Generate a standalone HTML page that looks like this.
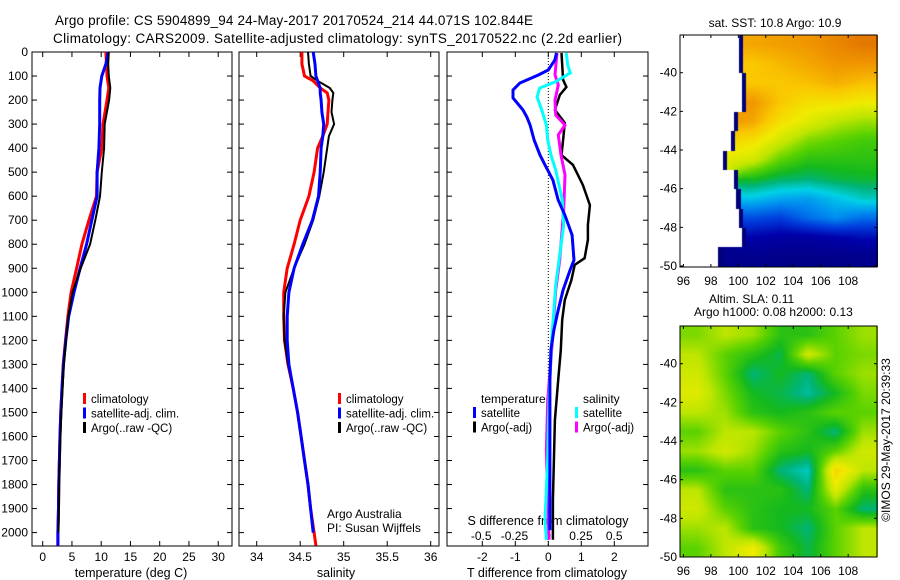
<!DOCTYPE html>
<html><head><meta charset="utf-8">
<style>
html,body{margin:0;padding:0;background:#fff;}
#wrap{position:relative;width:900px;height:580px;overflow:hidden;font-family:"Liberation Sans",sans-serif;}
canvas{position:absolute;}
svg{position:absolute;left:0;top:0;}
</style></head>
<body>
<div id="wrap">
<canvas id="sst" width="198" height="232" style="left:680px;top:35px"></canvas>
<canvas id="sla" width="198" height="231" style="left:680px;top:326px"></canvas>
<svg id="fig" width="900" height="580" xmlns="http://www.w3.org/2000/svg"></svg>
</div>
<script>
// ---- profile data (depth in dbar) ----
const depthsT = [0,50,100,150,200,300,400,500,600,700,800,900,1000,1100,1200,1300,1400,1500,1600,1700,1800,1900,2000,2054];
const tempClim = [10.8,10.9,11.0,11.3,11.0,10.3,10.1,9.3,9.2,7.9,6.7,5.8,4.85,4.3,3.9,3.5,3.3,3.1,2.95,2.85,2.75,2.7,2.6,2.6];
const tempSat  = [11.2,10.8,10.1,9.8,9.75,9.75,9.6,9.3,9.3,8.4,7.5,6.4,5.35,4.45,3.95,3.55,3.3,3.1,2.95,2.85,2.75,2.7,2.6,2.6];
const tempArgo = [11.3,11.2,11.3,11.55,11.35,10.6,10.5,10.1,9.8,9.0,8.1,6.5,5.1,4.4,4.0,3.6,3.4,3.2,3.0,2.9,2.8,2.75,2.7];
const depthsS = [0,50,100,120,150,170,200,250,300,350,400,500,600,700,800,900,1000,1100,1200,1300,1400,1500,1600,1700,1800,1900,2000,2054];
const salClim = [34.52,34.52,34.55,34.65,34.73,34.81,34.83,34.82,34.81,34.76,34.70,34.66,34.60,34.50,34.43,34.35,34.31,34.31,34.32,34.36,34.42,34.47,34.51,34.55,34.59,34.62,34.66,34.68];
const salSat  = [34.65,34.67,34.68,34.70,34.73,34.73,34.74,34.75,34.77,34.76,34.74,34.73,34.71,34.64,34.53,34.43,34.37,34.35,34.35,34.37,34.42,34.47,34.51,34.55,34.59,34.62,34.65];
const salArgo = [34.59,34.60,34.62,34.70,34.84,34.88,34.87,34.86,34.89,34.83,34.81,34.77,34.72,34.65,34.55,34.43,34.33,34.31,34.32,34.36,34.42,34.47,34.51,34.55,34.59,34.62,34.65];
// difference panel
const depthsDT = [4,33,75,96,129,158,191,241,270,304,366,429,470,533,616,678,762,866,907,990,1074,1157,1240,1365,1615,1990];
const dTsat = [0.25,0.2,0,-0.31,-0.86,-1.07,-1.07,-0.77,-0.65,-0.55,-0.43,-0.25,-0.1,0.14,0.3,0.5,0.72,0.78,0.66,0.45,0.3,0.17,0.08,0.05,0.05,0.05];
const depthsDTa = [4,116,146,179,241,295,366,429,470,554,637,720,782,858,886,949,1032,1115,1240,1365,1532,1865,2030];
const dTargo = [0.4,0.45,0.55,0.35,0.2,0.5,0.45,0.4,0.75,1.05,1.26,1.2,1.2,1.1,0.8,0.7,0.5,0.42,0.38,0.3,0.2,0.14,0.14];
const depthsDS = [4,54,87,125,150,187,241,304,366,429,491,616,720,845,970,1198,1448,1698,1948,2030];
const dSsat = [0.14,0.15,0.17,0.055,-0.06,-0.08,-0.045,-0.01,0,0.025,0.06,0.11,0.12,0.09,0.06,0.03,0.01,0,-0.02,-0.01];
const depthsDSa = [4,95,137,200,262,304,345,429,512,658,866,991,1157,1282,1448,1657,1865,2030];
const dSargo = [0.07,0.055,0.08,0.055,0.06,0.13,0.08,0.1,0.13,0.12,0.09,0.06,0.04,0.025,0,-0.01,0,0.01];
const depthTicks = [0,100,200,300,400,500,600,700,800,900,1000,1100,1200,1300,1400,1500,1600,1700,1800,1900,2000];
const tempTicks = [0,5,10,15,20,25,30];
const salTicks = [34,34.5,35,35.5,36];
const salTickLabels = ["34","34.5","35","35.5","36"];
const dTTicks = [-2,-1,0,1,2];
const dSTicks = [-0.5,-0.25,0,0.25,0.5];
const dSTickLabels = ["-0.5","-0.25","0","0.25","0.5"];
// map grids: rows lat -38.5..-49.5, cols lon 97..109 step 2 (colour scale 0..1), null = no data
const mapLats = [-38.5,-39.5,-40.5,-41.5,-42.5,-43.5,-44.5,-45.5,-46.5,-47.5,-48.5,-49.5];
const mapLons = [97,99,101,103,105,107,109];
const sstGrid = [
 [null,null,0.78,0.79,0.8,0.82,0.84],
 [null,null,0.74,0.76,0.78,0.8,0.8],
 [null,null,0.74,0.74,0.75,0.77,0.75],
 [null,null,0.8,0.74,0.7,0.7,0.68],
 [null,0.8,0.78,0.7,0.66,0.62,0.6],
 [null,0.72,0.7,0.64,0.58,0.56,0.54],
 [null,0.66,0.64,0.56,0.52,0.52,0.52],
 [null,null,0.5,0.47,0.46,0.48,0.49],
 [null,null,0.38,0.35,0.34,0.38,0.42],
 [null,null,0.24,0.22,0.28,0.32,0.28],
 [null,null,0.12,0.1,0.1,0.12,0.14],
 [null,0.05,0.05,0.04,0.04,0.04,0.05]];
const sstWestEdge = [100,100,100.2,100.2,99.6,99.4,98.8,99.6,99.8,100,100.2,98.5];
const slaGrid = [
 [.58,.62,.6,.52,.52,.56,.6],
 [.62,.56,.52,.48,.64,.56,.58],
 [.64,.56,.46,.5,.46,.56,.6],
 [.66,.58,.5,.48,.44,.5,.58],
 [.62,.6,.52,.5,.52,.56,.56],
 [.56,.62,.62,.56,.52,.46,.6],
 [.6,.64,.6,.52,.5,.56,.64],
 [.52,.56,.56,.46,.42,.72,.62],
 [.62,.52,.52,.52,.46,.66,.52],
 [.64,.56,.52,.5,.5,.56,.46],
 [.6,.62,.52,.5,.46,.56,.62],
 [.56,.62,.68,.54,.48,.56,.62]];
const lonTicks = [96,98,100,102,104,106,108];
const latTicks = [-40,-42,-44,-46,-48,-50];

const NS="http://www.w3.org/2000/svg";
const svg=document.getElementById('fig');
function mk(tag,attrs,parent){const e=document.createElementNS(NS,tag);for(const k in attrs)e.setAttribute(k,attrs[k]);(parent||svg).appendChild(e);return e;}
function txt(s,x,y,anchor,size,parent){const t=mk('text',{x:x,y:y,'text-anchor':anchor||'start','font-size':size||12,fill:'#000','font-family':'Liberation Sans, sans-serif'},parent);t.textContent=s;return t;}

const TOP=52,BOT=546;
const yD=d=>TOP+d*0.2403;
const P1={l:32,r:232}, P2={l:239,r:439}, P3={l:447,r:648};
const xT=v=>42.7+v*5.85;
const xS=v=>256.7+(v-34)*87;
const xDT=v=>548.3+v*33;
const xDS=v=>547.7+v*133;

function frame(p,name){
  const g=mk('g',{});
  
  
  mk('rect',{x:p.l,y:TOP,width:p.r-p.l,height:BOT-TOP,fill:'none',stroke:'#000','stroke-width':1},g);
  depthTicks.forEach(d=>{const y=yD(d);mk('line',{x1:p.l,x2:p.l+5,y1:y,y2:y,stroke:'#000'},g);mk('line',{x1:p.r-5,x2:p.r,y1:y,y2:y,stroke:'#000'},g);});
  return g;
}
function xticks(g,vals,fx,labels,ly){
  vals.forEach((v,i)=>{const x=fx(v);mk('line',{x1:x,x2:x,y1:BOT,y2:BOT-5,stroke:'#000'},g);mk('line',{x1:x,x2:x,y1:TOP,y2:TOP+5,stroke:'#000'},g);
    if(labels){const t=txt(labels[i],x,ly,'middle',12,g);}});
}
function step(xs,ds,fx,color,w,name){
  let d='';
  for(let i=0;i<xs.length;i++){const x=fx(xs[i]),y=yD(ds[i]);d+=(i?'L':'M')+x.toFixed(1)+' '+y.toFixed(1);}
  const p=mk('path',{d:d,fill:'none',stroke:color,'stroke-width':w,'stroke-linejoin':'miter'});
  
  
  return p;
}
function legend(items,x,y0,dy){
  items.forEach((it,i)=>{const y=y0+i*dy;
    const r=mk('rect',{x:x,y:y-10,width:3,height:11,fill:it[1]});
    
    
    const t=txt(it[0],x+8,y,'start',11.5);
    
    });
}

// titles
let t=txt('Argo profile: CS 5904899_94 24-May-2017 20170524_214 44.071S 102.844E',55,25,'start',13.5);
t.setAttribute('textLength','478');


t=txt('Climatology: CARS2009. Satellite-adjusted climatology: synTS_20170522.nc (2.2d earlier)',53,43,'start',13.5);
t.setAttribute('textLength','569');



// panel 1
let g1=frame(P1,'temperature-panel');
depthTicks.forEach(d=>{const l=txt(String(d),28,yD(d)+4,'end',12,g1);});
xticks(g1,tempTicks,xT,tempTicks.map(String),561);
t=txt('temperature (deg C)',131,577,'middle',12.5);


step(tempClim,depthsT,xT,'#f00',3,'temp-climatology-line');
step(tempSat,depthsT,xT,'#00f',3,'temp-satellite-line');
step(tempArgo,depthsT.slice(0,tempArgo.length),xT,'#000',2,'temp-argo-line');
legend([['climatology','#f00'],['satellite-adj. clim.','#00f'],['Argo(..raw -QC)','#000']],83,403,14.5);

// panel 2
let g2=frame(P2,'salinity-panel');
xticks(g2,salTicks,xS,salTickLabels,561);
t=txt('salinity',336,577,'middle',12.5);


step(salClim,depthsS,xS,'#f00',3,'sal-climatology-line');
step(salArgo,depthsS.slice(0,salArgo.length),xS,'#000',2,'sal-argo-line');
step(salSat,depthsS.slice(0,salSat.length),xS,'#00f',3,'sal-satellite-line');
legend([['climatology','#f00'],['satellite-adj. clim.','#00f'],['Argo(..raw -QC)','#000']],338,403,14.5);
t=txt('Argo Australia',327,518,'start',12);
t=txt('PI: Susan Wijffels',327,532,'start',12);

// panel 3
let g3=frame(P3,'difference-panel');
xticks(g3,dTTicks,xDT,dTTicks.map(String),561);
dSTicks.forEach((v,i)=>{const l=txt(dSTickLabels[i],xDS(v),540,'middle',12,g3);});
mk('line',{x1:xDT(0),x2:xDT(0),y1:TOP,y2:BOT,stroke:'#000','stroke-dasharray':'1 2','stroke-width':1});
t=txt('T difference from climatology',547,577,'middle',12.5);


t=txt('S difference from climatology',548,525,'middle',12.5);


step(dTargo,depthsDTa,xDT,'#000',2.5,'tdiff-argo-line');
step(dSargo,depthsDSa,xDS,'#f0f',3,'sdiff-argo-line');
step(dSsat,depthsDS,xDS,'#0ff',3,'sdiff-satellite-line');
step(dTsat,depthsDT,xDT,'#00f',3,'tdiff-satellite-line');
t=txt('temperature',481,403,'start',12);
t=txt('salinity',583,403,'start',12);
legend([['satellite','#00f'],['Argo(-adj)','#000']],473,417,14.5);
legend([['satellite','#0ff'],['Argo(-adj)','#f0f']],575,417,14.5);

// ---- maps ----
const cmapStops=[[0,[0,0,120]],[0.12,[0,0,170]],[0.22,[0,60,220]],[0.32,[0,140,240]],[0.4,[0,210,230]],[0.46,[0,180,120]],
 [0.5,[20,185,30]],[0.56,[90,210,0]],[0.62,[190,230,0]],[0.68,[240,235,0]],[0.74,[250,200,0]],[0.8,[240,150,0]],[0.88,[215,90,0]],[1,[140,0,0]]];
function cmap(v){
  v=Math.max(0,Math.min(1,v));
  for(let i=1;i<cmapStops.length;i++){if(v<=cmapStops[i][0]){const a=cmapStops[i-1],b=cmapStops[i];const f=(v-a[0])/(b[0]-a[0]);
    return [0,1,2].map(k=>Math.round(a[1][k]+(b[1][k]-a[1][k])*f));}}
  return cmapStops[cmapStops.length-1][1];
}
const LON0=95.75,LON1=110.1,LAT0=-38.05;
function sample(grid,lat,lon){
  let fr=(-38.5-lat), fc=(lon-97)/2;
  fr=Math.max(0,Math.min(mapLats.length-1,fr)); fc=Math.max(0,Math.min(mapLons.length-1,fc));
  const r0=Math.floor(fr),c0=Math.floor(fc),r1=Math.min(r0+1,mapLats.length-1),c1=Math.min(c0+1,mapLons.length-1);
  const a=fr-r0,b=fc-c0;let s=0,w=0;
  [[r0,c0,(1-a)*(1-b)],[r0,c1,(1-a)*b],[r1,c0,a*(1-b)],[r1,c1,a*b]].forEach(q=>{const v=grid[q[0]][q[1]];if(v!=null){s+=v*q[2];w+=q[2];}});
  return w>0?s/w:null;
}
function drawMap(id,grid,degPx,mask){
  const c=document.getElementById(id),ctx=c.getContext('2d');
  const W=c.width,H=c.height;const img=ctx.createImageData(W,H);
  for(let y=0;y<H;y++){const lat=LAT0-y/degPx;
    for(let x=0;x<W;x++){const lon=LON0+x*(LON1-LON0)/W;
      let v=sample(grid,lat,lon);const i=(y*W+x)*4;
      let edge=false;
      if(mask){const row=Math.max(0,Math.min(mapLats.length-1,Math.round(-38.5-lat)));if(lon<mask[row])v=null;else if(lon<mask[row]+0.3)edge=true;}
      if(v==null){img.data[i]=255;img.data[i+1]=255;img.data[i+2]=255;}
      else if(edge){img.data[i]=0;img.data[i+1]=0;img.data[i+2]=120;}
      else{const cc=cmap(v);img.data[i]=cc[0];img.data[i+1]=cc[1];img.data[i+2]=cc[2];}
      img.data[i+3]=255;}}
  ctx.putImageData(img,0,0);
}
drawMap('sst',sstGrid,19.33,sstWestEdge);
drawMap('sla',slaGrid,19.33,null);

function mapAxes(top,h,name,lonLabelY){
  const g=mk('g',{});
  
  
  mk('rect',{x:680,y:top,width:197,height:h,fill:'none',stroke:'#000'},g);
  const fx=lon=>680+(lon-LON0)*197/(LON1-LON0);
  const fy=lat=>top+(LAT0-lat)*19.33;
  lonTicks.forEach(l=>{const x=fx(l);mk('line',{x1:x,x2:x,y1:top,y2:top+3,stroke:'#000'},g);mk('line',{x1:x,x2:x,y1:top+h,y2:top+h-3,stroke:'#000'},g);
    const tl=txt(String(l),x,lonLabelY,'middle',12,g);});
  latTicks.forEach(l=>{const y=fy(l);mk('line',{x1:680,x2:683,y1:y,y2:y,stroke:'#000'},g);mk('line',{x1:877,x2:874,y1:y,y2:y,stroke:'#000'},g);
    const tl=txt(String(l),677,y+4,'end',12,g);});
}
mapAxes(35,232,'sst-map-axes',285);
mapAxes(326,231,'sla-map-axes',575);
t=txt('sat. SST: 10.8 Argo: 10.9',775,27,'middle',12);
t=txt('Altim. SLA: 0.11',709,303,'start',12);
t=txt('Argo h1000: 0.08 h2000: 0.13',694,316,'start',12);
t=txt('©IMOS 29-May-2017 20:39:33',0,0,'middle',12);
t.setAttribute('transform','translate(890,440) rotate(-90)');


</script>
</body></html>
